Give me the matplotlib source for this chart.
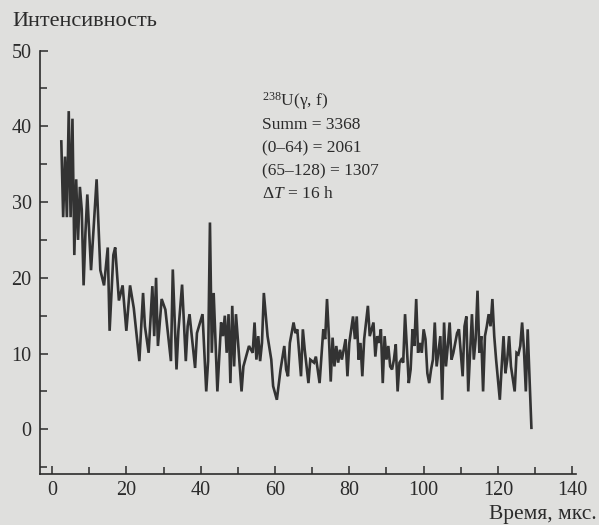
import matplotlib

matplotlib.use("Agg")
import matplotlib.pyplot as plt
from matplotlib.ticker import MultipleLocator

# time of each read point, us (0.5 us grid)
time_us = [
    2.5, 3.0, 3.5, 4.0, 4.5, 5.0, 5.5, 6.0, 6.5, 7.0, 7.5, 8.0, 8.5, 9.0, 9.5,
    10.5, 11.0, 12.0, 13.0, 14.0, 15.0, 15.5, 16.5, 17.0, 18.0, 19.0, 20.0, 21.0, 22.0,
    23.5, 24.5, 25.0, 26.0, 27.0, 27.5, 28.0, 28.5, 29.5, 30.5, 32.0, 32.5, 33.5,
    34.0, 35.0, 36.0, 36.5, 37.0, 38.5, 39.0, 40.5, 41.5, 42.0, 42.5, 43.0,
    43.5, 44.5, 45.5, 46.0, 46.5, 47.0, 47.5, 48.0, 48.5, 49.0, 49.5, 50.0, 51.0,
    51.5, 53.0, 54.0, 54.5, 55.0, 55.5, 56.0, 56.5, 57.0, 58.0, 59.0, 59.5, 60.5,
    61.5, 62.5, 63.0, 63.5, 64.0, 65.0, 65.5,
    66.0, 67.0, 67.5, 68.0, 69.0, 69.5, 70.5, 71.0, 72.0, 73.0, 73.5, 74.0, 74.5,
    75.0, 75.5, 76.0, 76.5, 77.0, 77.5, 78.0, 79.0, 79.5, 80.0, 81.0, 81.5, 82.0,
    82.5, 83.0, 83.5, 84.0, 85.0, 85.5, 86.5,
    87.0, 87.5, 88.0, 88.5, 89.0, 89.5, 90.0, 90.5, 91.0, 91.5, 92.0, 92.5, 93.0,
    93.5, 94.0, 94.5, 95.0, 96.0, 96.5, 97.0, 97.5, 98.0, 98.5, 99.0, 99.5, 100.0,
    100.5, 101.0, 101.5, 102.0, 102.5, 103.0, 103.5, 104.5, 105.0, 105.5, 106.0,
    106.5, 107.0, 107.5, 108.0,
    109.0, 109.5, 110.5, 111.0, 111.5, 112.0, 113.0, 113.5, 114.0, 114.5, 115.0,
    115.5, 116.0, 116.5, 117.0, 117.5, 118.0, 118.5, 119.0, 119.5, 120.5, 121.0,
    121.5, 122.0, 122.5, 123.0, 123.5, 124.5, 125.0, 125.5, 126.0, 126.5, 127.0,
    127.5, 128.0, 129.0,
]
counts = [
    38, 28, 36, 28, 42, 28, 41, 23, 33, 25, 32, 29, 19, 26, 31,
    21, 25, 33, 21, 19, 24, 13, 23, 24, 17, 19, 13, 19, 16,
    9.0, 18.0, 13.6, 10.1, 18.9, 12.3, 20.0, 11.0, 17.2, 15.8, 9.0, 21.1, 7.9,
    13.0, 19.1, 9.0, 13.6, 15.2, 8.1, 12.7, 15.2, 5.0, 9.0, 27.3, 10.1,
    18.0, 5.0, 14.1, 12.3, 15.0, 10.1, 15.2, 6.1, 16.3, 8.3, 15.2, 11.9, 5.0,
    8.3, 11.0, 10.1, 14.1, 9.2, 12.3, 9.0, 11.4, 18.0, 12.3, 9.2, 5.7, 3.9,
    7.9, 11.0, 7.9, 7.0, 11.4, 14.1, 12.7,
    13.2, 7.0, 13.2, 10.5, 6.1, 9.2, 8.8, 9.6, 6.1, 13.2, 11.9, 17.2, 12.3,
    6.3, 12.1, 8.3, 11.0, 8.8, 10.5, 9.2, 11.9, 7.0, 11.4, 14.9, 11.9, 14.9,
    9.2, 11.4, 7.0, 11.9, 16.3, 12.3, 14.1,
    9.6, 12.3, 11.4, 13.2, 6.1, 12.3, 9.2, 11.0, 8.3, 7.9, 9.2, 11.2, 5.0,
    8.8, 9.2, 8.8, 15.2, 6.1, 7.9, 13.2, 11.0, 17.2, 10.1, 11.4, 10.1, 13.2,
    11.9, 7.4, 6.1, 7.9, 9.2, 14.1, 8.3, 12.3, 3.9, 14.1, 8.3,
    11.0, 14.1, 9.2, 10.1,
    12.7, 13.2, 7.0, 13.6, 14.9, 5.0, 15.2, 9.2, 11.9, 18.3, 10.1,
    12.3, 5.0, 12.3, 13.6, 15.2, 13.6, 17.2, 12.3, 9.2, 3.9, 8.3,
    12.3, 7.4, 9.2, 12.3, 8.3, 5.0, 10.1, 9.9, 11.0, 14.1, 10.5,
    5.0, 13.2, 0.2,
]

x_ticks = [0, 20, 40, 60, 80, 100, 120, 140]
y_ticks = [0, 10, 20, 30, 40, 50]
info_lines = [
    r"$^{238}$U(γ, f)",
    "Summ = 3368",
    "(0–64) = 2061",
    "(65–128) = 1307",
    r"Δ$T$ = 16 h",
]
info_rows_px = [101, 125, 148, 171, 194]

paper = "#dfdfdd"
ink = "#2b2b2b"

plt.rcParams["font.family"] = ["Liberation Serif", "DejaVu Serif"]
plt.rcParams["mathtext.fontset"] = "custom"
plt.rcParams["mathtext.rm"] = "Liberation Serif"
plt.rcParams["mathtext.it"] = "Liberation Serif:italic"

fig = plt.figure(figsize=(5.99, 5.25), dpi=100, facecolor=paper)
ax = fig.add_axes([0.0668, 0.0971, 0.8948, 0.8067])
ax.set_facecolor(paper)

ax.plot(time_us, counts, color="#333333", lw=1.9, solid_joinstyle="miter")

ax.set_xlim(-3.23, 141.0)
ax.set_ylim(-5.9, 50)
ax.set_xticks(x_ticks)
ax.set_yticks(y_ticks)
ax.xaxis.set_minor_locator(MultipleLocator(10))
ax.yaxis.set_minor_locator(MultipleLocator(5))
ax.tick_params(which="both", direction="in", colors=ink, width=1.1, labelsize=14.5)
ax.tick_params(which="major", length=6)
ax.tick_params(which="minor", length=5)
ax.tick_params(axis="x", pad=5)
ax.tick_params(axis="y", pad=6)

for side in ("top", "right"):
    ax.spines[side].set_visible(False)
for side in ("left", "bottom"):
    ax.spines[side].set_color(ink)
    ax.spines[side].set_linewidth(1.2)

fig.text(12 / 599, 1 - 22 / 525, "Интенсивность", fontsize=16, color=ink, va="center", ha="left")
fig.text(597 / 599, 1 - 514 / 525, "Время, мкс.", fontsize=15.5, color=ink, va="center", ha="right")

for line, row in zip(info_lines, info_rows_px):
    fig.text(262 / 599, 1 - row / 525, line, fontsize=12.5, color=ink, va="center", ha="left")

fig.savefig("out.png", dpi=100, facecolor=paper)
